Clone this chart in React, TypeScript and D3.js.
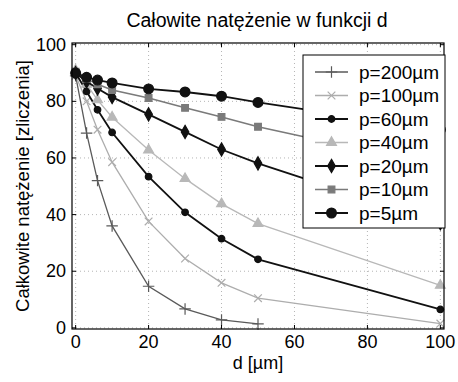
import React, { useRef, useEffect } from "react";
import * as d3 from "d3";

// distances d [um]
const dValues = [0, 3, 6, 10, 20, 30, 40, 50, 100];
const dValues200 = [0, 3, 6, 10, 20, 30, 40, 50];

// total intensity [counts] per pixel size p
const p200 = [89, 68.8, 52, 36, 14.7, 6.7, 2.8, 1.4];
const p100 = [89, 80, 70, 58.5, 37.6, 24.5, 15.9, 10.5, 1.5];
const p60 = [90, 83.5, 77, 69, 53.4, 40.8, 31.5, 24.2, 6.5];
const p40 = [91, 86, 80.5, 74.4, 62.8, 52.7, 43.8, 36.8, 15];
const p20 = [90, 87, 84.5, 81.5, 75.4, 69.2, 63, 58.1, 37];
const p10 = [90.5, 88, 86, 84, 81.2, 77.7, 74.5, 71, 57];
const p5 = [90, 88.5, 87.5, 86.5, 84.4, 83.3, 81.8, 79.6, 70];

const legendLabels = ["p=200µm", "p=100µm", "p=60µm", "p=40µm", "p=20µm", "p=10µm", "p=5µm"];
const xTicks = [0, 20, 40, 60, 80, 100];
const yTicks = [0, 20, 40, 60, 80, 100];

const FONT = "'Liberation Sans', Arial, sans-serif";

function App() {
  const ref = useRef(null);

  useEffect(() => {
    const svg = d3.select(ref.current);
    svg.selectAll("*").remove();

    const left = 72, right = 444, top = 43, bottom = 329;

    const x = d3.scaleLinear().domain([-1, 101]).range([left, right]);
    const y = d3.scaleLinear().domain([-0.4, 100.6]).range([bottom, top]);

    const series = [
      { d: dValues200, v: p200, color: "#5a5a5a", width: 1.3, symbol: d3.symbolPlus, size: 45, fill: false },
      { d: dValues, v: p100, color: "#adadad", width: 1.3, symbol: d3.symbolTimes, size: 40, fill: false },
      { d: dValues, v: p60, color: "#111", width: 1.8, symbol: d3.symbolCircle, size: 34, fill: true },
      { d: dValues, v: p40, color: "#b8b8b8", width: 1.3, symbol: d3.symbolTriangle, size: 42, fill: true },
      { d: dValues, v: p20, color: "#111", width: 1.8, symbol: d3.symbolDiamond, size: 50, fill: true },
      { d: dValues, v: p10, color: "#7a7a7a", width: 1.6, symbol: d3.symbolSquare, size: 45, fill: true },
      { d: dValues, v: p5, color: "#111", width: 1.8, symbol: d3.symbolCircle, size: 75, fill: true },
    ];

    // grid
    const grid = svg.append("g").attr("stroke", "#b5b5b5").attr("stroke-dasharray", "1,3");
    xTicks.forEach((t) => {
      grid.append("line").attr("x1", x(t)).attr("x2", x(t)).attr("y1", top).attr("y2", bottom);
    });
    yTicks.forEach((t) => {
      grid.append("line").attr("x1", left).attr("x2", right).attr("y1", y(t)).attr("y2", y(t));
    });

    // series
    const line = d3.line<number>();
    series.forEach((s) => {
      const pts = s.d.map((d, i) => [x(d), y(s.v[i])] as [number, number]);
      svg
        .append("path")
        .attr("d", line(pts as any))
        .style("fill", "none")
        .style("stroke", s.color)
        .style("stroke-width", s.width);
      const sym = d3.symbol().type(s.symbol).size(s.size);
      svg
        .append("g")
        .selectAll("path")
        .data(pts)
        .join("path")
        .attr("transform", (p) => `translate(${p[0]},${p[1]})`)
        .attr("d", sym)
        .style("fill", s.fill ? s.color : "none")
        .style("stroke", s.color)
        .style("stroke-width", 1.2);
    });

    // box + inward ticks
    svg
      .append("rect")
      .attr("x", left).attr("y", top)
      .attr("width", right - left).attr("height", bottom - top)
      .style("fill", "none").style("stroke", "#000").style("stroke-width", 1.2);

    const ticks = svg.append("g").attr("stroke", "#000").attr("stroke-width", 1);
    xTicks.forEach((t) => {
      ticks.append("line").attr("x1", x(t)).attr("x2", x(t)).attr("y1", bottom).attr("y2", bottom - 4);
      ticks.append("line").attr("x1", x(t)).attr("x2", x(t)).attr("y1", top).attr("y2", top + 4);
    });
    yTicks.forEach((t) => {
      ticks.append("line").attr("x1", left).attr("x2", left + 4).attr("y1", y(t)).attr("y2", y(t));
      ticks.append("line").attr("x1", right).attr("x2", right - 4).attr("y1", y(t)).attr("y2", y(t));
    });

    svg
      .append("g")
      .selectAll("text")
      .data(xTicks)
      .join("text")
      .attr("x", (t) => x(t))
      .attr("y", bottom + 19)
      .attr("text-anchor", "middle")
      .style("font-size", "18px")
      .text((t) => t);

    svg
      .append("g")
      .selectAll("text")
      .data(yTicks)
      .join("text")
      .attr("x", left - 6)
      .attr("y", (t) => y(t) + 6)
      .attr("text-anchor", "end")
      .style("font-size", "18px")
      .text((t) => t);

    svg.append("text")
      .attr("x", 257).attr("y", 27)
      .attr("text-anchor", "middle")
      .style("font-size", "19.5px")
      .text("Całowite natężenie w funkcji d");

    svg.append("text")
      .attr("x", 258).attr("y", 369)
      .attr("text-anchor", "middle")
      .style("font-size", "18px")
      .text("d [µm]");

    svg.append("text")
      .attr("transform", `translate(29,${(top + bottom) / 2}) rotate(-90)`)
      .attr("text-anchor", "middle")
      .style("font-size", "18.5px")
      .text("Całkowite natężenie [zliczenia]");

    // legend
    const lg = svg.append("g");
    lg.append("rect")
      .attr("x", 303).attr("y", 55).attr("width", 142).attr("height", 173)
      .style("fill", "#fff").style("stroke", "#000").style("stroke-width", 1);
    series.forEach((s, i) => {
      const yy = 72 + i * 23.5;
      lg.append("line")
        .attr("x1", 315).attr("x2", 348).attr("y1", yy).attr("y2", yy)
        .style("stroke", s.color).style("stroke-width", s.width);
      lg.append("path")
        .attr("transform", `translate(331.5,${yy})`)
        .attr("d", d3.symbol().type(s.symbol).size(s.size)())
        .style("fill", s.fill ? s.color : "none")
        .style("stroke", s.color)
        .style("stroke-width", 1.2);
      lg.append("text")
        .attr("x", 359).attr("y", yy + 6.5)
        .style("font-size", "19px")
        .text(legendLabels[i]);
    });
  }, []);

  return (
    <svg
      ref={ref}
      width="458"
      height="382"
      style={{ position: "absolute", left: 0, top: 0, background: "#fff", fontFamily: FONT }}
    ></svg>
  );
}

export default App;
